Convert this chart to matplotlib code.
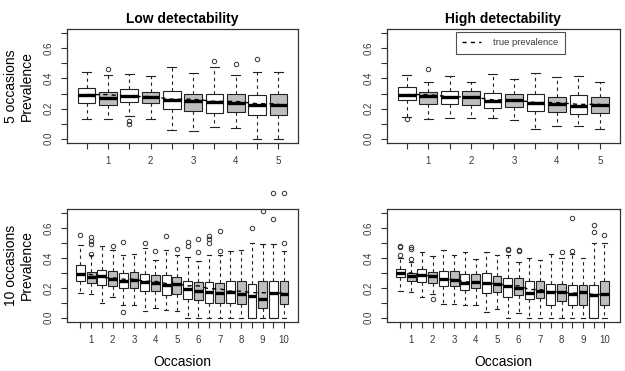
import numpy as np
import matplotlib
matplotlib.use("Agg")
import matplotlib.pyplot as plt

plt.rcParams['font.family'] = ['Liberation Sans', 'DejaVu Sans']

# ---------------- data ----------------#
# Low detectability, 5 occasions (10 boxes, 2 per occasion)
low5_whishi = [0.444, 0.422, 0.431, 0.418, 0.473, 0.438, 0.473, 0.422, 0.444, 0.444]
low5_q3 = [0.338, 0.311, 0.333, 0.311, 0.318, 0.300, 0.300, 0.300, 0.287, 0.296]
low5_med = [0.293, 0.273, 0.284, 0.278, 0.256, 0.249, 0.244, 0.236, 0.227, 0.222]
low5_q1 = [0.240, 0.227, 0.244, 0.238, 0.196, 0.184, 0.173, 0.178, 0.156, 0.160]
low5_whislo = [0.133, 0.129, 0.149, 0.129, 0.058, 0.049, 0.078, 0.073, 0.0, 0.0]
low5_out = [[], [0.462], [0.116, 0.096], [], [], [], [0.518], [0.498], [0.527], []]
low5_true = [0.293, 0.280, 0.262, 0.248, 0.232]

# High detectability, 5 occasions
high5_whishi = [0.422, 0.378, 0.418, 0.378, 0.427, 0.396, 0.438, 0.411, 0.418, 0.378]
high5_q3 = [0.340, 0.311, 0.318, 0.316, 0.304, 0.300, 0.298, 0.278, 0.287, 0.278]
high5_med = [0.293, 0.284, 0.278, 0.276, 0.253, 0.258, 0.236, 0.229, 0.218, 0.227]
high5_q1 = [0.256, 0.233, 0.229, 0.227, 0.207, 0.213, 0.182, 0.178, 0.167, 0.171]
high5_whislo = [0.145, 0.133, 0.140, 0.140, 0.138, 0.122, 0.062, 0.082, 0.082, 0.062]
high5_out = [[0.130], [0.462], [], [], [], [], [], [], [], []]
high5_true = [0.293, 0.278, 0.258, 0.240, 0.228]

# Low detectability, 10 occasions (20 boxes)
low10_whishi = [0.489, 0.420, 0.482, 0.451, 0.418, 0.429, 0.467, 0.384, 0.456, 0.418,
                0.404, 0.382, 0.422, 0.418, 0.449, 0.456, 0.500, 0.493, 0.493, 0.444]
low10_q3 = [0.356, 0.304, 0.322, 0.311, 0.300, 0.304, 0.293, 0.289, 0.284, 0.271,
            0.244, 0.242, 0.238, 0.233, 0.244, 0.244, 0.229, 0.244, 0.244, 0.244]
low10_med = [0.293, 0.271, 0.278, 0.262, 0.249, 0.251, 0.238, 0.233, 0.218, 0.227,
             0.193, 0.178, 0.173, 0.164, 0.171, 0.156, 0.149, 0.127, 0.167, 0.156]
low10_q1 = [0.244, 0.233, 0.222, 0.216, 0.200, 0.200, 0.178, 0.182, 0.151, 0.156,
            0.127, 0.122, 0.100, 0.100, 0.100, 0.093, 0.0, 0.067, 0.0, 0.093]
low10_whislo = [0.167, 0.162, 0.100, 0.138, 0.089, 0.089, 0.044, 0.067, 0.051, 0.044,
                0.0, 0.0, 0.0, 0.0, 0.0, 0.0, 0.0, 0.0, 0.0, 0.0]
low10_out = [[0.556], [0.538, 0.516, 0.493, 0.427], [], [0.478], [0.504, 0.038], [],
             [0.500], [0.449], [0.549], [0.462], [0.504, 0.478], [0.529, 0.438],
             [0.549, 0.527, 0.500], [0.578, 0.444], [], [], [0.600], [0.716],
             [0.833, 0.662], [0.833, 0.500]]
low10_true = [0.290, 0.268, 0.258, 0.244, 0.229, 0.214, 0.194, 0.178, 0.168, 0.165]

# High detectability, 10 occasions
high10_whishi = [0.400, 0.373, 0.438, 0.411, 0.451, 0.422, 0.438, 0.393, 0.438, 0.418,
                 0.422, 0.373, 0.400, 0.389, 0.427, 0.400, 0.427, 0.400, 0.500, 0.500]
high10_q3 = [0.329, 0.300, 0.327, 0.304, 0.311, 0.311, 0.296, 0.293, 0.300, 0.282,
             0.267, 0.267, 0.244, 0.244, 0.229, 0.227, 0.222, 0.222, 0.222, 0.244]
high10_med = [0.300, 0.278, 0.284, 0.282, 0.262, 0.256, 0.233, 0.240, 0.233, 0.229,
              0.216, 0.200, 0.167, 0.182, 0.171, 0.173, 0.156, 0.171, 0.151, 0.156]
high10_q1 = [0.271, 0.244, 0.238, 0.233, 0.216, 0.211, 0.189, 0.200, 0.167, 0.173,
             0.140, 0.151, 0.127, 0.133, 0.089, 0.111, 0.084, 0.084, 0.0, 0.089]
high10_whislo = [0.178, 0.173, 0.140, 0.156, 0.093, 0.093, 0.089, 0.089, 0.040, 0.060,
                 0.0, 0.033, 0.0, 0.0, 0.0, 0.0, 0.0, 0.0, 0.0, 0.0]
high10_out = [[0.482, 0.473, 0.422], [0.471, 0.462, 0.393], [], [0.127], [], [], [], [],
              [], [], [0.460, 0.451], [0.451, 0.444], [], [], [], [0.438],
              [0.667, 0.444], [], [0.622, 0.571], [0.551]]
high10_true = [0.300, 0.282, 0.256, 0.240, 0.229, 0.214, 0.189, 0.173, 0.165, 0.156]

strTitles = ["Low detectability", "High detectability"]
strRowLabels = ["5 occasions\nPrevalence", "10 occasions\nPrevalence"]
strXLabel = "Occasion"
strLegend = "true prevalence"
vecFill = ["white", "#bebebe"]
TXT = "#3a3a3a"


def DrawPanel(ax, whishi, q3, med, q1, whislo, out, true):
    n = len(med)
    pos = np.arange(1, n + 1)
    stats = []
    for i in range(n):
        stats.append({"med": med[i], "q1": q1[i], "q3": q3[i], "whislo": whislo[i],
                      "whishi": whishi[i], "fliers": out[i]})
    bp = ax.bxp(stats, positions = pos, widths = 0.82, capwidths = 0.41, patch_artist = True,
                boxprops = dict(edgecolor = "#222222", linewidth = 0.8),
                whiskerprops = dict(color = "#222222", linewidth = 0.8, linestyle = (0, (3, 3))),
                capprops = dict(color = "#222222", linewidth = 0.8),
                medianprops = dict(color = "black", linewidth = 2.4, solid_capstyle = "butt"),
                flierprops = dict(marker = "o", markersize = 3.2, markerfacecolor = "none",
                                  markeredgecolor = "#333333", markeredgewidth = 0.7))
    for i, patch in enumerate(bp["boxes"]):
        patch.set_facecolor(vecFill[i % 2])
    for fl in bp["fliers"]:
        fl.set_clip_on(False)

    # true prevalence, one value per occasion shared by its two boxes
    line, = ax.plot(pos, np.repeat(true, 2), color = "black", linewidth = 1.0,
                    linestyle = (0, (3, 3)), zorder = 4)

    ax.set_ylim(-0.028, 0.728)
    ax.set_yticks(np.arange(0, 0.71, 0.1))
    ax.set_yticklabels(["0.0", "", "0.2", "", "0.4", "", "0.6", ""], rotation = 90, va = "center")
    ax.set_xticks(pos)
    ax.set_xticklabels([str(p // 2) if p % 2 == 0 else "" for p in pos])
    ax.tick_params(axis = "both", length = 4.5, width = 0.8, color = "#333333",
                   labelsize = 7, labelcolor = TXT)
    ax.tick_params(axis = "x", pad = 5)
    ax.tick_params(axis = "y", pad = 5)
    for sp in ax.spines.values():
        sp.set_color("#333333")
        sp.set_linewidth(0.9)
    return line


fig = plt.figure(figsize = (6.25, 3.71), dpi = 100)

vecPanels = [
    [0.1072, 0.6146, 0.3696, 0.3073, low5_whishi, low5_q3, low5_med, low5_q1, low5_whislo, low5_out, low5_true, (0.08, 10.92)],
    [0.6192, 0.6146, 0.3720, 0.3073, high5_whishi, high5_q3, high5_med, high5_q1, high5_whislo, high5_out, high5_true, (0.08, 10.92)],
    [0.1072, 0.1321, 0.3696, 0.3046, low10_whishi, low10_q3, low10_med, low10_q1, low10_whislo, low10_out, low10_true, (-0.25, 21.3)],
    [0.6192, 0.1321, 0.3720, 0.3046, high10_whishi, high10_q3, high10_med, high10_q1, high10_whislo, high10_out, high10_true, (-0.25, 21.4)],
]

for k, p in enumerate(vecPanels):
    ax = fig.add_axes(p[:4])
    line = DrawPanel(ax, *p[4:11])
    ax.set_xlim(*p[11])
    if k < 2:
        ax.set_title(strTitles[k], fontsize = 10, fontweight = "bold", pad = 4)
    else:
        ax.set_xlabel(strXLabel, fontsize = 10, labelpad = 7)
    if k % 2 == 0:
        ax.set_ylabel(strRowLabels[k // 2], fontsize = 10, labelpad = 7, linespacing = 1.2)
    if k == 1:
        leg = ax.legend([line], [strLegend], loc = "upper center", bbox_to_anchor = (0.53, 0.975),
                        fontsize = 6.8, frameon = True, fancybox = False, handlelength = 2.0,
                        borderpad = 0.7, handletextpad = 1.2, borderaxespad = 0)
        leg.get_frame().set_edgecolor("#222222")
        leg.get_frame().set_linewidth(0.8)
        for t in leg.get_texts():
            t.set_color(TXT)
        leg.set_zorder(10)

fig.savefig("out.png", dpi = 100)
